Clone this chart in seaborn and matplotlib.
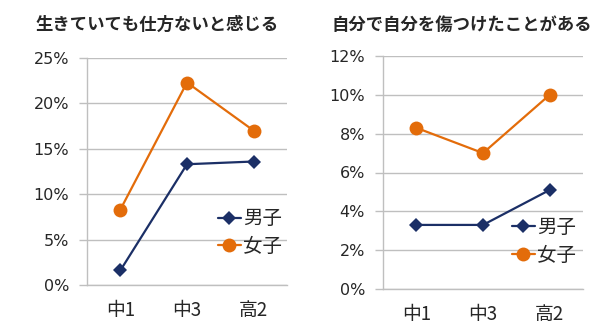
import matplotlib
matplotlib.use("Agg")
import matplotlib.pyplot as plt
import seaborn as sns
import pandas as pd
from matplotlib.ticker import FixedLocator, PercentFormatter

categories = ["中1", "中3", "高2"]
groups = ["男子", "女子"]

left_title = "生きていても仕方ないと感じる"
left_boys = [1.6, 13.3, 13.6]
left_girls = [8.3, 22.3, 17.0]
left_yticks = [0, 5, 10, 15, 20, 25]

right_title = "自分で自分を傷つけたことがある"
right_boys = [3.3, 3.3, 5.1]
right_girls = [8.3, 7.0, 10.0]
right_yticks = [0, 2, 4, 6, 8, 10, 12]

sns.set_theme(style="white")
plt.rcParams["font.family"] = ["Noto Sans CJK JP", "DejaVu Sans"]

colors = {"男子": "#1B2F66", "女子": "#E36C0A"}
markers = {"男子": "D", "女子": "o"}

fig = plt.figure(figsize=(6.16, 3.33), dpi=100)
ax1 = fig.add_axes([87/616, 1-285/333, 200/616, 227/333])
ax2 = fig.add_axes([383/616, 1-289/333, 200/616, 233/333])


def draw(ax, title, boys, girls, yticks, leg_anchor, title_x):
    df = pd.DataFrame({
        "pos": list(range(len(categories))) * 2,
        "val": boys + girls,
        "sex": [groups[0]] * len(boys) + [groups[1]] * len(girls),
    })
    sns.lineplot(data=df, x="pos", y="val", hue="sex", style="sex",
                 markers=markers, dashes=False, palette=colors, ax=ax,
                 linewidth=1.6, markersize=9, markeredgewidth=0)
    for line in ax.get_lines():
        if line.get_marker() == "o":
            line.set_markersize(10)
        elif line.get_marker() == "D":
            line.set_markersize(7)
    ax.set_xlim(-0.5, len(categories) - 0.5)
    ax.set_ylim(yticks[0], yticks[-1])
    ax.set_yticks(yticks)
    ax.yaxis.set_major_formatter(PercentFormatter(decimals=0))
    for lab in ax.get_yticklabels():
        lab.set_fontfamily("DejaVu Sans")
    ax.set_xticks(range(len(categories)))
    ax.set_xticklabels(categories, fontsize=13.5)
    ax.xaxis.set_minor_locator(FixedLocator([-0.5, 0.5, 1.5, 2.5]))
    ax.tick_params(axis="x", which="major", length=0, pad=11)
    ax.tick_params(axis="x", which="minor", length=5, color="#BFBFBF", width=1, direction="out")
    ax.tick_params(axis="y", length=6, color="#BFBFBF", width=1, labelsize=11.5, pad=7, left=True)
    ax.grid(axis="y", color="#BFBFBF", linewidth=1)
    ax.set_axisbelow(True)
    for s in ["top", "right"]:
        ax.spines[s].set_visible(False)
    for s in ["left", "bottom"]:
        ax.spines[s].set_color("#BFBFBF")
        ax.spines[s].set_linewidth(1)
    ax.set_xlabel("")
    ax.set_ylabel("")
    fig.text(title_x / 616, 1 - 25 / 333, title, fontsize=12.5, fontweight="bold",
             ha="center", va="center")
    handles, labels = ax.get_legend_handles_labels()
    ax.legend(handles, labels, loc="center left", bbox_to_anchor=leg_anchor,
              frameon=False, fontsize=14, handlelength=1.2, handletextpad=0.1,
              labelspacing=0.35, borderaxespad=0)


draw(ax1, left_title, left_boys, left_girls, left_yticks, (0.615, 0.23), 157)
draw(ax2, right_title, right_boys, right_girls, right_yticks, (0.605, 0.205), 462)

fig.savefig("out.png", dpi=100)
